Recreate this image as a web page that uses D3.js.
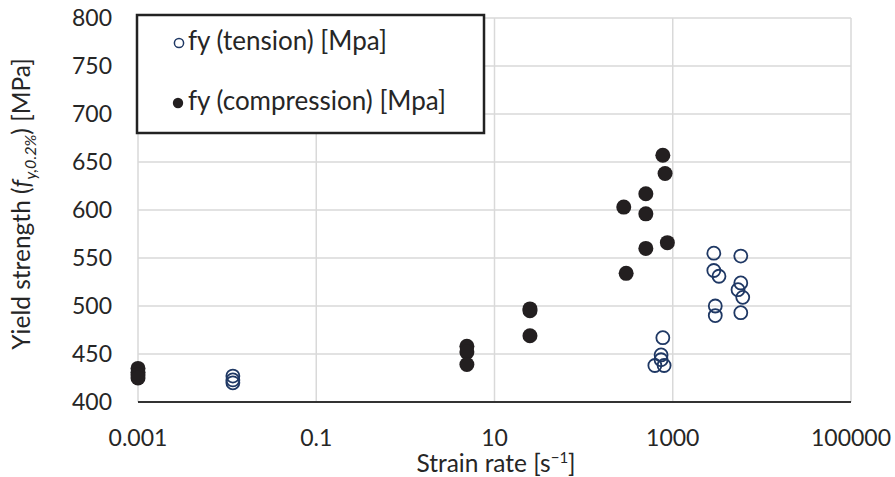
<!DOCTYPE html>
<html>
<head>
<meta charset="utf-8">
<script src="https://cdn.jsdelivr.net/npm/d3@7"></script>
<style>
  body { margin: 0; background: #fff; }
  text { font-family: Lato, "Open Sans", sans-serif; fill: #262626; }
</style>
</head>
<body>
<div id="chart"></div>
<script>
// data
var tensionRate = [0.0116, 0.0116, 0.0116, 774, 740, 740, 630, 800,
                   2890, 5800, 2890, 3300, 5800, 5400, 6100, 3000, 3000, 5800];
var tensionFy   = [427, 423, 420, 467, 449, 444, 438, 438,
                   555, 552, 537, 531, 524, 517, 509, 500, 490, 493];

var compRate = [0.001, 0.001, 0.001, 0.001, 4.9, 4.9, 4.9, 25, 25, 25,
                774, 820, 499, 282, 499, 870, 499, 300];
var compFy   = [435, 431, 428, 425, 458, 452, 439, 469, 495, 497,
                657, 638, 617, 603, 596, 566, 560, 534];

var xTicks = [0.001, 0.1, 10, 1000, 100000];
var yTicks = [400, 450, 500, 550, 600, 650, 700, 750, 800];

var width = 895, height = 477;
var plotL = 138, plotR = 851, plotT = 18, plotB = 402;

var svg = d3.select("#chart").append("svg")
  .attr("width", width)
  .attr("height", height);

var x = d3.scaleLog().domain([0.001, 100000]).range([plotL, plotR]);
var y = d3.scaleLinear().domain([400, 800]).range([plotB, plotT]);

// gridlines
svg.append("g").selectAll("line").data(yTicks.slice(1)).enter().append("line")
  .attr("x1", plotL).attr("x2", plotR)
  .attr("y1", function(d) { return y(d); })
  .attr("y2", function(d) { return y(d); })
  .attr("stroke", "#d9d9d9").attr("stroke-width", 1.5);

svg.append("g").selectAll("line").data(xTicks).enter().append("line")
  .attr("x1", function(d) { return x(d); })
  .attr("x2", function(d) { return x(d); })
  .attr("y1", plotT).attr("y2", plotB)
  .attr("stroke", "#d9d9d9").attr("stroke-width", 1.5);

// x axis line
svg.append("line")
  .attr("x1", plotL).attr("x2", plotR)
  .attr("y1", plotB).attr("y2", plotB)
  .attr("stroke", "#333").attr("stroke-width", 2);

// tick labels
svg.append("g").selectAll("text").data(yTicks).enter().append("text")
  .attr("x", 112)
  .attr("y", function(d) { return y(d) + 8; })
  .attr("text-anchor", "end")
  .style("font-size", "23px")
  .text(function(d) { return d; });

svg.append("g").selectAll("text").data(xTicks).enter().append("text")
  .attr("x", function(d) { return x(d); })
  .attr("y", 446)
  .attr("text-anchor", "middle")
  .style("font-size", "23px")
  .text(function(d) { return d >= 1 ? d3.format("d")(d) : String(d); });

// axis titles
var xt = svg.append("text")
  .attr("x", 496).attr("y", 472)
  .attr("text-anchor", "middle")
  .style("font-size", "24.5px");
xt.append("tspan").text("Strain rate [s");
xt.append("tspan").attr("dy", -9).style("font-size", "15px").text("\u22121");
xt.append("tspan").attr("dy", 9).text("]");

var yt = svg.append("text")
  .attr("transform", "translate(30,204) rotate(-90)")
  .attr("text-anchor", "middle")
  .style("font-size", "24.5px");
yt.append("tspan").text("Yield strength (");
yt.append("tspan").style("font-style", "italic").text("f");
yt.append("tspan").attr("dy", 6).style("font-style", "italic").style("font-size", "16px").text("y,0.2%");
yt.append("tspan").attr("dy", -6).text(") [MPa]");

// points
svg.append("g").selectAll("circle").data(compRate).enter().append("circle")
  .attr("cx", function(d) { return x(d); })
  .attr("cy", function(d, i) { return y(compFy[i]); })
  .attr("r", 7.5)
  .attr("fill", "#231f20");

svg.append("g").selectAll("circle").data(tensionRate).enter().append("circle")
  .attr("cx", function(d) { return x(d); })
  .attr("cy", function(d, i) { return y(tensionFy[i]); })
  .attr("r", 6.5)
  .attr("fill", "none")
  .attr("stroke", "#1f3864")
  .attr("stroke-width", 1.8);

// legend
var legend = svg.append("g");
legend.append("rect")
  .attr("x", 137).attr("y", 15)
  .attr("width", 347).attr("height", 118)
  .attr("fill", "#fff")
  .attr("stroke", "#222").attr("stroke-width", 2.5);

legend.append("circle")
  .attr("cx", 179).attr("cy", 43).attr("r", 4.6)
  .attr("fill", "none").attr("stroke", "#1f3864").attr("stroke-width", 1.5);
legend.append("text")
  .attr("x", 188).attr("y", 50)
  .style("font-size", "26px")
  .text("fy (tension) [Mpa]");

legend.append("circle")
  .attr("cx", 178).attr("cy", 103).attr("r", 5.2)
  .attr("fill", "#231f20");
legend.append("text")
  .attr("x", 188).attr("y", 110)
  .style("font-size", "26px")
  .text("fy (compression) [Mpa]");
</script>
</body>
</html>
